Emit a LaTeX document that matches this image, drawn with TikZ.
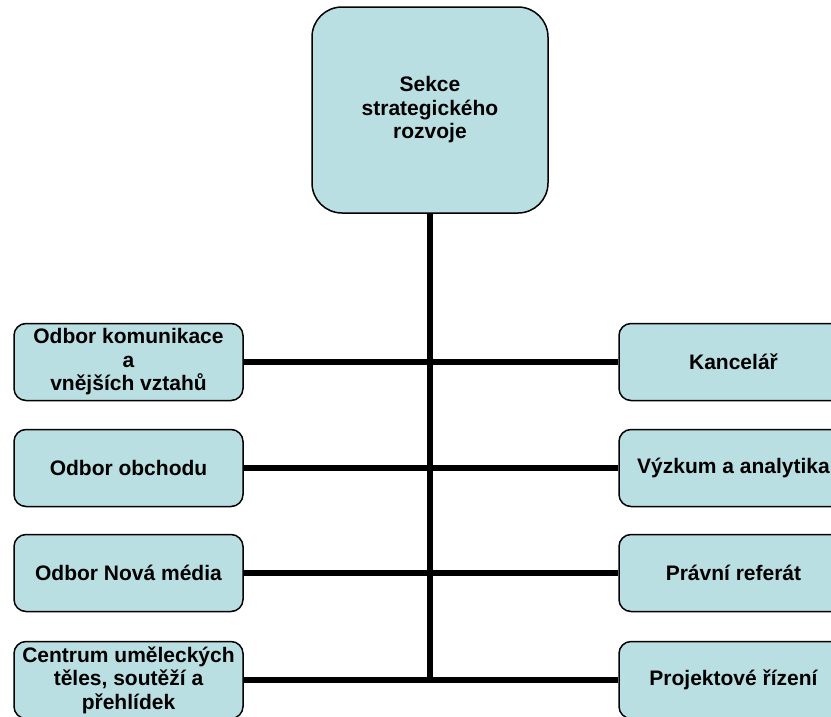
\documentclass[tikz,border=0pt]{standalone}
\usepackage{fontspec}
\setmainfont{Liberation Sans}
\definecolor{boxfill}{RGB}{185,223,227}

\begin{document}
\begin{tikzpicture}[x=1pt, y=-1pt,
    unit/.style={draw=black, line width=1.5pt, fill=boxfill, rounded corners=12pt,
      minimum width=229pt, minimum height=77pt, inner sep=0pt, align=center,
      font=\fontsize{21}{23.5}\selectfont\bfseries},
    link/.style={line width=6pt}]
      \clip (0,0) rectangle (831,716);
      \useasboundingbox (0,0) rectangle (831,716);

      \node[unit, rounded corners=30pt, minimum width=236pt, minimum height=206pt] (sekce) at (430,110) {Sekce\\strategického\\rozvoje};

      \node[unit] (l1) at (128.5,362) {Odbor komunikace\\a\\vnějších vztahů};
      \node[unit] (l2) at (128.5,468) {Odbor obchodu};
      \node[unit] (l3) at (128.5,573) {Odbor Nová média};
      \node[unit] (l4) at (128.5,680) {Centrum uměleckých\\těles, soutěží a\\přehlídek};

      \node[unit] (r1) at (733.5,362) {Kancelář};
      \node[unit] (r2) at (733.5,468) {Výzkum a analytika};
      \node[unit] (r3) at (733.5,573) {Právní referát};
      \node[unit] (r4) at (733.5,680) {Projektové řízení};

      \coordinate (spoj) at (sekce.south |- l4.east);

      \draw[link] (sekce.south) -- ([yshift=-3pt]spoj);
      \draw[link] (l1) -- (r1);
      \draw[link] (l2) -- (r2);
      \draw[link] (l3) -- (r3);
      \draw[link] (l4) -- (r4);
    \end{tikzpicture}
\end{document}
